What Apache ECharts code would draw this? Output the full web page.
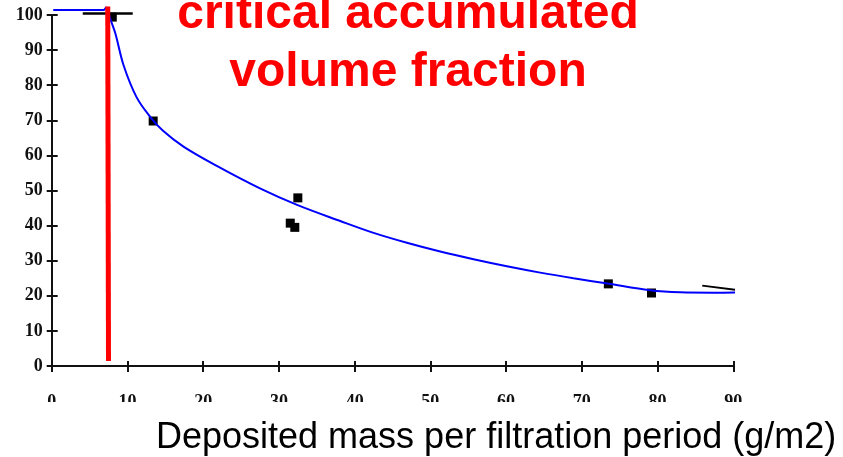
<!DOCTYPE html>
<html>
<head>
<meta charset="utf-8">
<script src="https://cdn.jsdelivr.net/npm/echarts@6/dist/echarts.min.js"></script>
<style>
  html, body { margin: 0; padding: 0; background: #ffffff; }
  #chart { width: 843px; height: 457px; }
</style>
</head>
<body>
<div id="chart"></div>
<script>
// Measured samples: deposited mass (g/m2) vs accumulated volume fraction (%)
const massX = [8.0, 13.4, 31.5, 32.1, 32.5, 73.5, 79.2];
const fractionY = [99.4, 69.8, 40.7, 39.5, 47.9, 23.4, 20.8];

// Fitted trend curve
const fitX = [0.2, 6.9, 7.25, 7.8, 8.4, 9.5, 11.2, 13.0, 14.7, 17.4, 21.8, 27.5, 32.4, 38.1, 42.4, 46.9, 51.3, 55.7, 60.1, 64.5, 68.9, 73.4, 79.0, 83.0, 87.3, 91.6];
const fitY = [101.4, 101.4, 102.3, 98.5, 94.8, 85.6, 76.6, 71.0, 67.0, 62.5, 57.0, 50.6, 45.9, 41.3, 38.0, 35.1, 32.6, 30.4, 28.4, 26.6, 25.0, 23.5, 21.6, 21.0, 20.9, 21.0];
// Index where the flat lead-in ends and the smooth decay begins
const fitCorner = 2;

// Critical mass marker (vertical line)
const criticalX = [7.4, 7.5];
const criticalY = [102.4, 1.4];

// Leftover end strokes of the hand-drawn curve
const leftStrokeX = [4.1, 10.7];
const leftStrokeY = [100.4, 100.4];
const rightStrokeX = [85.9, 92.9];
const rightStrokeY = [22.9, 21.0];

// Axis ticks
const xTicks = [0, 10, 20, 30, 40, 50, 60, 70, 80, 90];
const yTicks = [0, 10, 20, 30, 40, 50, 60, 70, 80, 90, 100];

const titleLines = ['critical accumulated', 'volume fraction'];
const xTitle = 'Deposited mass per filtration period (g/m2)';

const pairs = (xs, ys) => xs.map((x, i) => [x, ys[i]]);
const fitPoints = pairs(fitX, fitY);

const chart = echarts.init(document.getElementById('chart'), null, { renderer: 'canvas' });

const tickFont = {
  fontFamily: 'Liberation Serif',
  fontWeight: 'bold',
  fontSize: 18,
  color: '#111'
};

const option = {
  backgroundColor: '#ffffff',
  animation: false,
  grid: { left: 51.7, right: 109.7, top: 15, bottom: 91 },
  xAxis: [
    {
      type: 'value', min: xTicks[0], max: xTicks[xTicks.length - 1], interval: 10,
      axisLine: { show: true, onZero: false, lineStyle: { color: '#111', width: 2 } },
      axisTick: { show: true, length: 6, lineStyle: { color: '#111', width: 2 } },
      axisLabel: Object.assign({ margin: 27 }, tickFont),
      splitLine: { show: false }
    },
    {
      type: 'value', position: 'bottom', min: xTicks[0], max: xTicks[xTicks.length - 1], interval: 10,
      axisLine: { show: false },
      axisTick: { show: true, inside: true, length: 5, lineStyle: { color: '#111', width: 2 } },
      axisLabel: { show: false },
      splitLine: { show: false }
    }
  ],
  yAxis: [
    {
      type: 'value', min: yTicks[0], max: yTicks[yTicks.length - 1], interval: 10,
      axisLine: { show: true, onZero: false, lineStyle: { color: '#111', width: 2 } },
      axisTick: { show: true, length: 5, lineStyle: { color: '#111', width: 2 } },
      axisLabel: Object.assign({ margin: 9, padding: [4, 0, 0, 0] }, tickFont),
      splitLine: { show: false }
    },
    {
      type: 'value', position: 'left', min: yTicks[0], max: yTicks[yTicks.length - 1], interval: 10,
      axisLine: { show: false },
      axisTick: { show: true, inside: true, length: 6, lineStyle: { color: '#111', width: 2 } },
      axisLabel: { show: false },
      splitLine: { show: false }
    }
  ],
  series: [
    {
      type: 'line', data: pairs(leftStrokeX, leftStrokeY), showSymbol: false, clip: false,
      lineStyle: { color: '#000', width: 2.5 }, z: 2
    },
    {
      type: 'line', data: pairs(rightStrokeX, rightStrokeY), showSymbol: false, clip: false,
      lineStyle: { color: '#000', width: 2 }, z: 2
    },
    {
      type: 'scatter', data: pairs(massX, fractionY), symbol: 'rect', symbolSize: 9,
      itemStyle: { color: '#000', opacity: 1 }, z: 3
    },
    {
      // flat lead-in of the fitted curve
      type: 'line', data: fitPoints.slice(0, fitCorner + 1), showSymbol: false, clip: false,
      lineStyle: { color: '#0000ff', width: 2 }, z: 4
    },
    {
      // smooth decay of the fitted curve
      type: 'line', data: fitPoints.slice(fitCorner), showSymbol: false, clip: false,
      smooth: 0.35,
      lineStyle: { color: '#0000ff', width: 2 }, z: 4
    },
    {
      type: 'line', data: pairs(criticalX, criticalY), showSymbol: false, clip: false,
      lineStyle: { color: '#ff0000', width: 5 }, z: 5
    }
  ],
  graphic: [
    {
      type: 'rect', left: 0, top: 402, z: 100,
      shape: { width: 843, height: 55 },
      style: { fill: '#ffffff' }
    },
    {
      type: 'text', x: 408, y: 14.4, z: 101,
      style: {
        text: titleLines[0], fill: '#ff0000', align: 'center', verticalAlign: 'middle',
        font: 'bold 48px "Liberation Sans", Arial, sans-serif'
      }
    },
    {
      type: 'text', x: 408, y: 72.4, z: 101,
      style: {
        text: titleLines[1], fill: '#ff0000', align: 'center', verticalAlign: 'middle',
        font: 'bold 48px "Liberation Sans", Arial, sans-serif'
      }
    },
    {
      type: 'text', x: 156, y: 438.5, z: 101,
      style: {
        text: xTitle, fill: '#000000', align: 'left', verticalAlign: 'middle',
        font: '36px "Liberation Sans", Arial, sans-serif'
      }
    }
  ]
};

chart.setOption(option);
</script>
</body>
</html>
